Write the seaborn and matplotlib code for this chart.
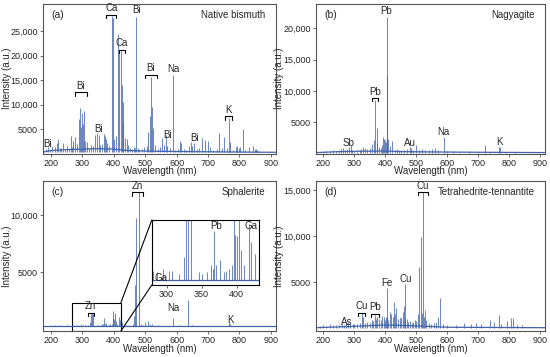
import matplotlib
matplotlib.use("Agg")
import matplotlib.pyplot as plt
import seaborn as sns
import pandas as pd
from matplotlib.patches import Rectangle, ConnectionPatch

# --- data: peak wavelengths (nm) and intensities (a.u.) ---
a_wl = [185, 190, 196, 205, 212, 219, 224, 229, 233, 238, 246, 252, 258, 263, 268, 272, 278, 283,
        289.8, 293.8, 296, 298.9, 302.5, 306.8, 310, 315, 320, 327, 333, 341, 348, 352, 357, 362,
        368, 372, 376, 380, 386, 393.4, 396.8, 401, 406, 412.2, 416, 422.7, 425, 428, 431, 436, 441,
        446, 452, 458, 463, 468, 472.2, 476, 482, 490, 497, 505, 510, 514, 518.6, 522, 526, 532,
        540, 548, 555, 560, 565, 570, 578, 589, 594, 604, 610, 615, 622, 630, 640, 645, 650, 656,
        665, 672, 680, 690, 700, 707, 716, 727, 736, 745, 750, 760, 766.5, 769.9, 778, 788, 793,
        798, 803, 810, 818, 831, 842, 848, 852, 857, 863, 872]
a_int = [900, 1300, 700, 1500, 1400, 2100, 2900, 1200, 1200, 2200, 1000, 1600, 900, 3500, 1400, 2600,
         3300, 2000, 7000, 9300, 5500, 8200, 6000, 8700, 2500, 2400, 1200, 1800, 1500, 3700, 4100,
         3800, 1700, 2000, 3900, 3600, 3000, 2200, 1600, 28200, 27800, 3000, 3500, 24500, 20500,
         21000, 14000, 10500, 6500, 3200, 3000, 1800, 1200, 900, 1400, 1100, 27900, 1200, 800,
         1000, 1300, 1500, 4300, 7600, 15600, 9500, 5200, 1800, 900, 1300, 3100, 1800, 3700, 1500,
         1100, 16100, 800, 1000, 2500, 2100, 900, 700, 1600, 2300, 1500, 2100, 900, 1100, 3200,
         2700, 2500, 1300, 800, 900, 4100, 1100, 3300, 1200, 7200, 2400, 800, 1400, 1500, 1200,
         1400, 5100, 800, 1400, 1600, 1000, 900, 800, 600, 400]
a_base_wl = [176, 200, 250, 300, 350, 400, 450, 500, 600, 700, 800, 915]
a_base = [300, 600, 800, 900, 1000, 900, 600, 500, 400, 350, 300, 250]

b_wl = [200, 210, 220, 230, 240, 250, 258, 265, 270, 277, 282.5, 287.8, 294, 300, 310, 317, 323,
        328, 333, 340, 350, 357.6, 363, 368.3, 372, 374, 380, 386, 390, 394, 396, 399, 402, 405.8,
        406.6, 409, 416, 422.7, 430, 438, 445, 452, 462, 470, 479.3, 482, 490, 500, 510, 520, 530,
        540, 550, 560, 570, 589, 600, 620, 640, 670, 700, 722.9, 740, 766.5, 769.9, 790, 820]
b_int = [300, 400, 350, 500, 450, 600, 700, 900, 600, 700, 1000, 1300, 500, 400, 500, 600, 800,
         1000, 900, 700, 900, 1500, 2100, 8600, 1600, 4000, 1100, 900, 1300, 2700, 2300, 2100, 1800,
         21800, 12500, 2300, 1200, 2000, 600, 700, 500, 600, 500, 700, 1100, 900, 600, 1300, 500,
         700, 500, 600, 700, 900, 500, 2600, 400, 400, 300, 350, 300, 1300, 300, 1100, 1000, 300, 250]
b_base_wl = [176, 250, 300, 400, 450, 550, 700, 915]
b_base = [150, 300, 350, 400, 300, 250, 200, 150]

c_wl = [200, 213.9, 230, 250, 270, 280, 287, 294.4, 303, 307.6, 318, 324.7, 328.2, 330.3, 334.5,
        346, 350, 358, 363, 367, 368.3, 371, 377, 382, 385, 389, 393, 396.2, 398, 401, 403.3, 405.8,
        410, 417.2, 421, 426, 440, 450, 460, 466, 468, 472.2, 481, 486, 492, 500, 508, 515, 522,
        540, 589, 610, 636.2, 650, 670, 720, 766.5, 769.9, 800]
c_int = [350, 400, 350, 350, 380, 420, 400, 450, 420, 420, 380, 600, 1300, 1400, 1300, 400, 380,
         400, 500, 450, 950, 500, 560, 400, 420, 450, 500, 1600, 900, 880, 1450, 700, 500, 1050,
         800, 650, 400, 380, 500, 1200, 3900, 9800, 12000, 500, 400, 600, 700, 500, 450, 350, 1000,
         350, 2600, 350, 330, 330, 650, 500, 330]
c_base_wl = [176, 915]
c_base = [300, 300]

d_wl = [190, 200, 210, 220, 232, 240, 250, 260, 268, 272, 278, 286, 296, 300, 310, 318, 324.7,
        327.4, 333, 340, 350, 358, 361, 368.3, 371, 374, 380, 385, 390, 395, 398, 402, 404.6, 407,
        410, 414, 420, 425, 427, 432, 436, 440, 447, 452, 457, 460, 463, 465.1, 470, 475, 480, 485,
        490, 495, 500, 505, 510.5, 515.3, 518, 521.8, 525, 529, 533, 540, 548, 557, 565, 570,
        578.2, 586, 600, 630, 655, 677, 695, 709, 739, 752, 766.5, 773, 793, 808, 812, 825, 843]
d_int = [200, 300, 250, 450, 300, 350, 350, 400, 300, 550, 650, 500, 400, 450, 500, 600, 1600,
         1250, 600, 700, 600, 900, 800, 1450, 1000, 1200, 1000, 900, 1300, 1250, 900, 1200, 4400,
         1200, 900, 1800, 1500, 1200, 2900, 1500, 2200, 1000, 1100, 1200, 1800, 2400, 1000, 4800,
         1000, 700, 800, 600, 700, 900, 800, 1500, 6600, 9900, 1600, 14800, 1200, 2000, 900, 600,
         500, 600, 700, 1200, 3300, 500, 300, 300, 600, 500, 550, 500, 900, 700, 1450, 500, 800,
         1150, 1100, 300, 350]
d_base_wl = [176, 300, 400, 500, 600, 915]
d_base = [50, 200, 350, 250, 100, 50]

x_ticks = [200, 300, 400, 500, 600, 700, 800, 900]
a_yticks = [5000, 10000, 15000, 20000, 25000]
b_yticks = [5000, 10000, 15000, 20000]
c_yticks = [5000, 10000]
d_yticks = [5000, 10000, 15000]
inset_xticks = [300, 350, 400]

# --- style ---
sns.set_theme(style="white")
plt.rcParams["font.family"] = ["Liberation Sans", "DejaVu Sans"]
plt.rcParams["font.size"] = 6.5
LINE = "#4063aa"
FRAME = "#555555"
TICK_FS = 6.5
LAB_FS = 7


def ytick_fmt(v):
    return "5000" if v < 10000 else f"{v:,}"


def draw_spectrum(ax, wl, inten, base_wl, base, floor):
    df = pd.DataFrame({"wl": wl, "I": inten})
    ax.vlines(df["wl"], floor, df["I"], color=LINE, lw=0.75, alpha=0.75)
    bdf = pd.DataFrame({"wl": base_wl, "I": base})
    sns.lineplot(data=bdf, x="wl", y="I", ax=ax, color=LINE, lw=0.9, legend=False)


def style_axes(ax, ylim, yticks, tag, name, ylab_x):
    ax.set_xlim(176, 916)
    ax.set_ylim(*ylim)
    ax.set_xticks(x_ticks)
    ax.set_yticks(yticks)
    ax.set_yticklabels([ytick_fmt(v) for v in yticks])
    ax.tick_params(length=2.5, width=0.6, pad=1.2, labelsize=TICK_FS, color=FRAME,
                   direction="out", bottom=True, left=True)
    for s in ax.spines.values():
        s.set_color(FRAME)
        s.set_linewidth(0.8)
    ax.set_xlabel("Wavelength (nm)", fontsize=LAB_FS)
    ax.set_ylabel("Intensity (a.u.)", fontsize=LAB_FS)
    ax.xaxis.set_label_coords(0.5, -0.085)
    ax.yaxis.set_label_coords(ylab_x, 0.5)
    ax.text(0.035, 0.925, tag, transform=ax.transAxes, fontsize=7.5, va="center")
    ax.text(0.955, 0.925, name, transform=ax.transAxes, fontsize=LAB_FS, va="center", ha="right")


def label(ax, txt, x, y, br=None):
    ax.text(x, y, txt, fontsize=LAB_FS, ha="center", va="center")
    if br is not None:
        x0, x1, yb = br
        h = (ax.get_ylim()[1] - ax.get_ylim()[0]) * 0.022
        ax.plot([x0, x0, x1, x1], [yb - h, yb, yb, yb - h], color="black", lw=0.8)


fig = plt.figure(figsize=(5.5, 3.57), dpi=100)
ax_a = fig.add_axes([0.0787, 0.570, 0.423, 0.419])
ax_b = fig.add_axes([0.5745, 0.570, 0.416, 0.419])
ax_c = fig.add_axes([0.0787, 0.0728, 0.423, 0.420])
ax_d = fig.add_axes([0.5745, 0.0728, 0.416, 0.420])

# (a)
draw_spectrum(ax_a, a_wl, a_int, a_base_wl, a_base, 250)
style_axes(ax_a, (0, 30600), a_yticks, "(a)", "Native bismuth", -0.135)
label(ax_a, "Bi", 190, 1900)
label(ax_a, "Bi", 295, 13900, (276, 314, 12500))
label(ax_a, "Bi", 352, 5000)
label(ax_a, "Ca", 392, 29700, (377, 406, 28400))
label(ax_a, "Ca", 426, 22600, (416, 435, 21200))
label(ax_a, "Bi", 471, 29300)
label(ax_a, "Bi", 518, 17400, (499, 538, 16100))
label(ax_a, "Na", 589, 17300)
label(ax_a, "Bi", 572, 3700)
label(ax_a, "Bi", 658, 3200)
label(ax_a, "K", 765, 8800, (753, 777, 7600))

# (b)
draw_spectrum(ax_b, b_wl, b_int, b_base_wl, b_base, 150)
style_axes(ax_b, (0, 23900), b_yticks, "(b)", "Nagyagite", -0.14)
label(ax_b, "Pb", 404, 22700)
label(ax_b, "Pb", 366, 9900, (357, 376, 8900))
label(ax_b, "Sb", 280, 1700)
label(ax_b, "Au", 479, 1700)
label(ax_b, "Na", 589, 3400)
label(ax_b, "K", 770, 1850)

# (c)
draw_spectrum(ax_c, c_wl, c_int, c_base_wl, c_base, 300)
style_axes(ax_c, (-150, 13000), c_yticks, "(c)", "Sphalerite", -0.135)
label(ax_c, "Zn", 475, 12600, (459, 492, 12000))
label(ax_c, "Zn", 327, 2050, (318, 337, 1450))
label(ax_c, "Na", 589, 1900)
label(ax_c, "K", 770, 850)
ax_c.add_patch(Rectangle((266, -150), 157, 2500, fill=False, ec="black", lw=0.8))

ax_in = fig.add_axes([0.276, 0.2017, 0.195, 0.182])
draw_spectrum(ax_in, c_wl, c_int, c_base_wl, c_base, 300)
ax_in.set_xlim(279, 432)
ax_in.set_ylim(230, 1100)
ax_in.set_xticks(inset_xticks)
ax_in.set_yticks([])
ax_in.set_xlabel("")
ax_in.set_ylabel("")
ax_in.tick_params(length=2.5, width=0.6, pad=1.2, labelsize=TICK_FS, color=FRAME, bottom=True)
for s in ax_in.spines.values():
    s.set_color("black")
    s.set_linewidth(0.8)
ax_in.text(292, 330, "Ga", fontsize=LAB_FS, ha="center", va="center")
ax_in.text(371, 1020, "Pb", fontsize=LAB_FS, ha="center", va="center")
ax_in.text(421, 1020, "Ga", fontsize=LAB_FS, ha="center", va="center")
for (xa, ya), (xb, yb) in [((423, 2350), (0, 1)), ((423, -150), (0, 0))]:
    con = ConnectionPatch(xyA=(xa, ya), coordsA=ax_c.transData, xyB=(xb, yb),
                          coordsB=ax_in.transAxes, color="black", lw=0.8)
    fig.add_artist(con)

# (d)
draw_spectrum(ax_d, d_wl, d_int, d_base_wl, d_base, 50)
style_axes(ax_d, (-310, 16000), d_yticks, "(d)", "Tetrahedrite-tennantite", -0.14)
label(ax_d, "Cu", 522, 15450, (506, 538, 14800))
label(ax_d, "Cu", 466, 5400)
label(ax_d, "Fe", 405, 4950)
label(ax_d, "Cu", 324, 2450, (313, 336, 1630))
label(ax_d, "Pb", 367, 2300, (355, 379, 1520))
label(ax_d, "As", 275, 650)

fig.savefig("out.png", dpi=100)
